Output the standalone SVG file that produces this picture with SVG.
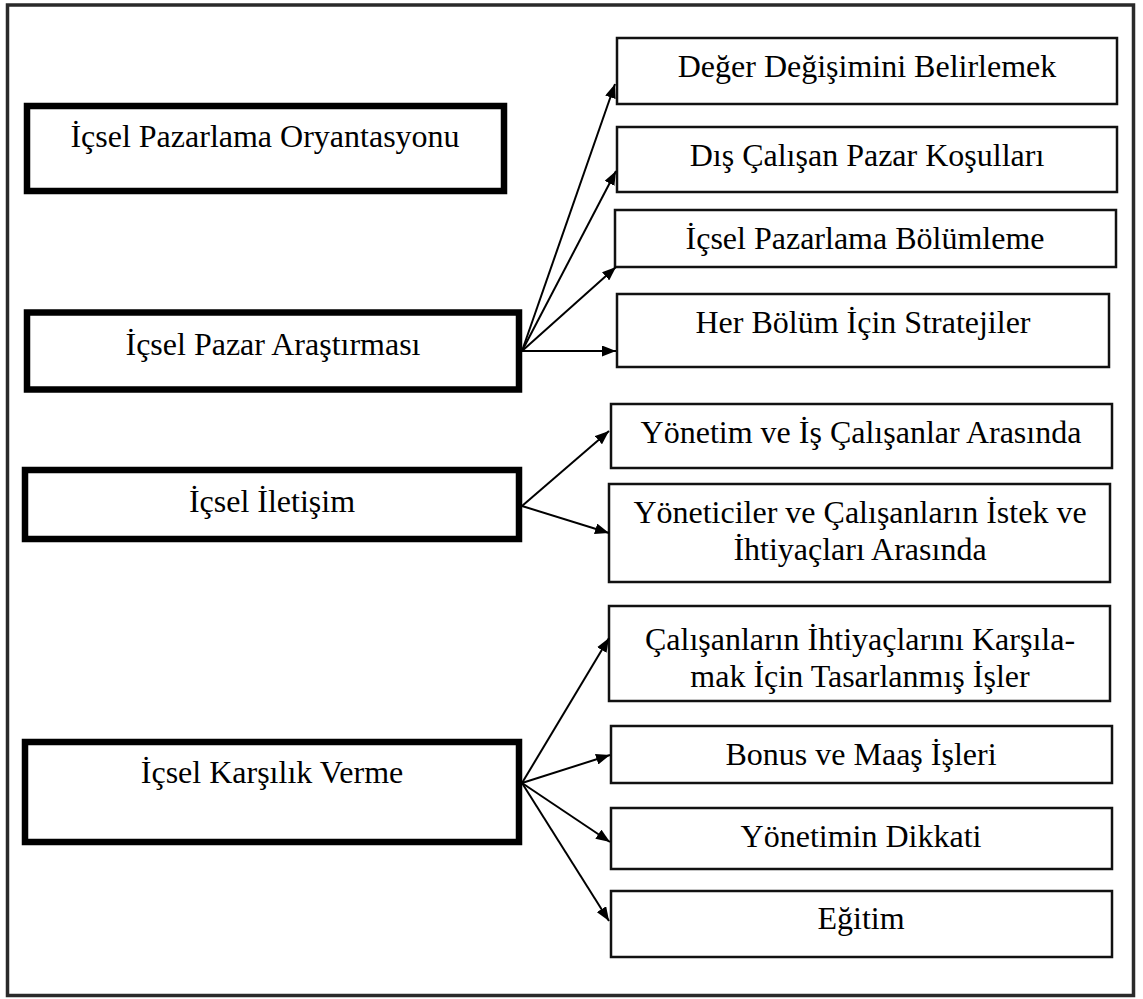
<svg xmlns="http://www.w3.org/2000/svg" width="1143" height="999" viewBox="0 0 1143 999">
<defs>
<style>
.frame{fill:#fff;stroke:#2a2a2a;stroke-width:3.5}
.main{fill:#fff;stroke:#000;stroke-width:6.5}
.sub{fill:#fff;stroke:#111;stroke-width:2.5}
.t{font-family:"Liberation Serif","Times New Roman",serif;font-size:32px;fill:#000;text-anchor:middle}
.c{stroke:#000;stroke-width:2;fill:none;marker-end:url(#ah)}
</style>
<marker id="ah" viewBox="0 0 14 11" refX="14" refY="5.5" markerWidth="14" markerHeight="11" markerUnits="userSpaceOnUse" orient="auto">
<path d="M0,0 L14,5.5 L0,11 z" fill="#000"/>
</marker>
</defs>
<rect width="1143" height="999" fill="#fff"/>
<rect class="frame" x="7.5" y="5" width="1126" height="990.5"/>

<g id="n-oryantasyon"><rect class="main" x="27" y="106" width="477" height="85"/><text class="t" x="265" y="147">İçsel Pazarlama Oryantasyonu</text></g>
<g id="n-arastirma"><rect class="main" x="27" y="312.5" width="492" height="77"/><text class="t" x="273" y="355">İçsel Pazar Araştırması</text></g>
<g id="n-iletisim"><rect class="main" x="25" y="470" width="494" height="69"/><text class="t" x="272" y="512">İçsel İletişim</text></g>
<g id="n-karsilik"><rect class="main" x="25" y="742" width="494" height="100"/><text class="t" x="272" y="783">İçsel Karşılık Verme</text></g>

<g id="n-deger"><rect class="sub" x="617" y="38" width="500" height="66"/><text class="t" x="867" y="77">Değer Değişimini Belirlemek</text></g>
<g id="n-dis"><rect class="sub" x="617" y="127" width="500" height="65"/><text class="t" x="867" y="166">Dış Çalışan Pazar Koşulları</text></g>
<g id="n-bolumleme"><rect class="sub" x="615" y="210" width="501" height="57"/><text class="t" x="865" y="249">İçsel Pazarlama Bölümleme</text></g>
<g id="n-strateji"><rect class="sub" x="617" y="294" width="492" height="73"/><text class="t" x="863" y="333">Her Bölüm İçin Stratejiler</text></g>
<g id="n-yonetim"><rect class="sub" x="611" y="404" width="501" height="64"/><text class="t" x="861" y="443">Yönetim ve İş Çalışanlar Arasında</text></g>
<g id="n-yoneticiler"><rect class="sub" x="609" y="484" width="501" height="98"/><text class="t" x="860" y="523">Yöneticiler ve Çalışanların İstek ve</text><text class="t" x="860" y="560">İhtiyaçları Arasında</text></g>
<g id="n-calisanlar"><rect class="sub" x="609" y="606" width="501" height="95"/><text class="t" x="860" y="650">Çalışanların İhtiyaçlarını Karşıla-</text><text class="t" x="860" y="687">mak İçin Tasarlanmış İşler</text></g>
<g id="n-bonus"><rect class="sub" x="611" y="726" width="501" height="57"/><text class="t" x="861" y="765">Bonus ve Maaş İşleri</text></g>
<g id="n-dikkat"><rect class="sub" x="611" y="808" width="501" height="61"/><text class="t" x="861" y="847">Yönetimin Dikkati</text></g>
<g id="n-egitim"><rect class="sub" x="611" y="891" width="501" height="66"/><text class="t" x="861" y="929">Eğitim</text></g>

<g id="connectors">
<line class="c" x1="522" y1="351" x2="615" y2="84"/>
<line class="c" x1="522" y1="351" x2="616" y2="171"/>
<line class="c" x1="522" y1="351" x2="616" y2="267"/>
<line class="c" x1="522" y1="351" x2="616" y2="351"/>
<line class="c" x1="522" y1="506" x2="609" y2="431"/>
<line class="c" x1="522" y1="506" x2="609" y2="533"/>
<line class="c" x1="522" y1="783" x2="609" y2="638"/>
<line class="c" x1="522" y1="783" x2="610" y2="755"/>
<line class="c" x1="522" y1="783" x2="610" y2="842"/>
<line class="c" x1="522" y1="783" x2="609" y2="921"/>
</g>
</svg>
